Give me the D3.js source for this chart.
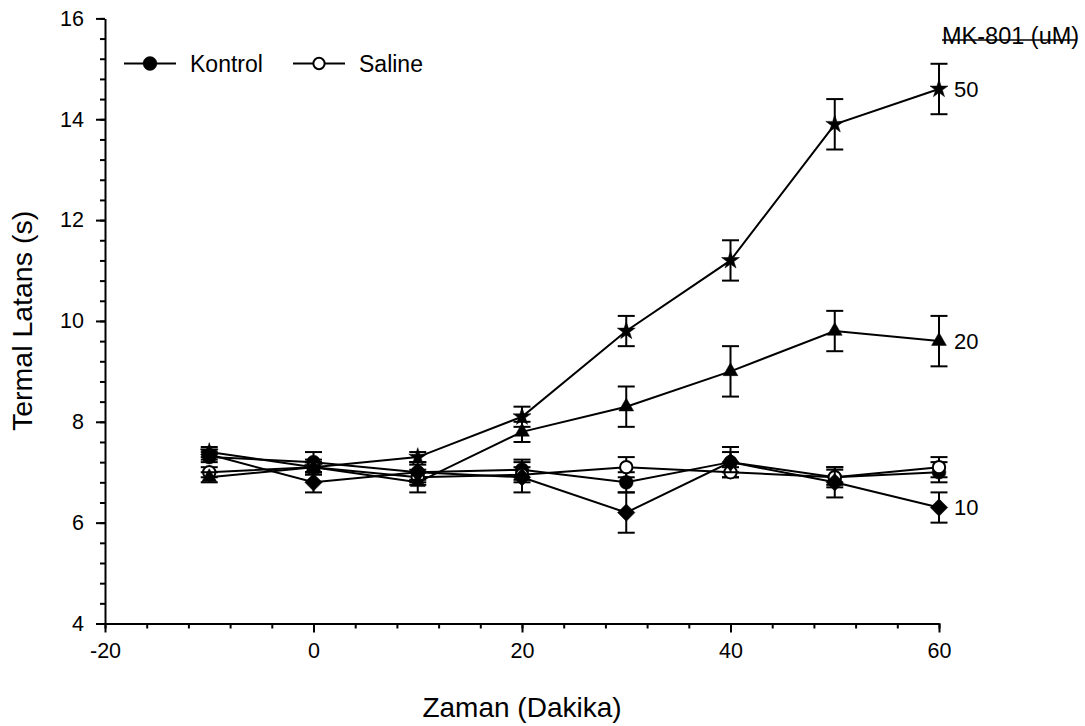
<!DOCTYPE html>
<html lang="tr">
<head>
<meta charset="UTF-8">
<title>Termal Latans</title>
<script src="https://cdn.jsdelivr.net/npm/d3@7"></script>
<style>
  body { margin: 0; background: #fff; }
  text { font-family: "Liberation Sans", Arial, sans-serif; fill: #000; }
</style>
</head>
<body>
<div id="grafico"></div>
<script>
// time points (minutes)
var zaman = [-10, 0, 10, 20, 30, 40, 50, 60];

// mean latency and SEM for each group
var kontrol    = [7.3, 7.2, 7.0, 7.05, 6.8, 7.2, 6.9, 7.0];
var kontrolErr = [0.1, 0.2, 0.2, 0.2, 0.2, 0.3, 0.2, 0.2];
var saline     = [7.0, 7.1, 6.9, 6.95, 7.1, 7.0, 6.9, 7.1];
var salineErr  = [0.1, 0.15, 0.15, 0.15, 0.2, 0.1, 0.15, 0.2];
var mk10       = [7.35, 6.8, 7.0, 6.9, 6.2, 7.2, 6.8, 6.3];
var mk10Err    = [0.1, 0.2, 0.15, 0.3, 0.4, 0.2, 0.3, 0.3];
var mk20       = [6.9, 7.1, 6.8, 7.8, 8.3, 9.0, 9.8, 9.6];
var mk20Err    = [0.1, 0.1, 0.2, 0.2, 0.4, 0.5, 0.4, 0.5];
var mk50       = [7.4, 7.1, 7.3, 8.1, 9.8, 11.2, 13.9, 14.6];
var mk50Err    = [0.1, 0.1, 0.1, 0.2, 0.3, 0.4, 0.5, 0.5];

var xTicks = [-20, 0, 20, 40, 60];
var yTicks = [4, 6, 8, 10, 12, 14, 16];

var w = 1085, h = 726;

var svg = d3.select("#grafico").append("svg")
    .attr("width", w).attr("height", h);

var x = d3.scaleLinear().domain([-20, 60]).range([105, 939]);
var y = d3.scaleLinear().domain([4, 16]).range([623.5, 18.4]);

// minor ticks
svg.append("g")
    .attr("transform", "translate(0,623.5)")
    .call(d3.axisBottom(x).tickValues(d3.range(-20, 61, 4)).tickSize(5).tickSizeOuter(0).tickFormat(""))
    .call(function(g){ g.select(".domain").remove(); });
svg.append("g")
    .attr("transform", "translate(105,0)")
    .call(d3.axisLeft(y).tickValues(d3.range(4, 16.01, 0.4)).tickSize(5).tickSizeOuter(0).tickFormat(""))
    .call(function(g){ g.select(".domain").remove(); });

// major axes
var plain = function(d){ return String(d); };
svg.append("g")
    .attr("transform", "translate(0,623.5)")
    .call(d3.axisBottom(x).tickValues(xTicks).tickFormat(plain).tickSize(9).tickSizeOuter(0).tickPadding(10));
svg.append("g")
    .attr("transform", "translate(105,0)")
    .call(d3.axisLeft(y).tickValues(yTicks).tickFormat(plain).tickSize(9).tickSizeOuter(0).tickPadding(12));

svg.selectAll(".tick line, .domain").attr("stroke", "#000").attr("stroke-width", 2);
svg.selectAll(".tick text").attr("font-size", "21.5px").attr("font-family", "Liberation Sans, Arial, sans-serif").attr("fill", "#000");

// axis titles
svg.append("text")
    .attr("x", x(20)).attr("y", 717)
    .attr("text-anchor", "middle")
    .attr("font-size", "28px")
    .text("Zaman (Dakika)");
svg.append("text")
    .attr("transform", "translate(32," + y(10) + ") rotate(-90)")
    .attr("text-anchor", "middle")
    .attr("font-size", "28.5px")
    .text("Termal Latans (s)");

var series = [
    {ad: "kontrol", v: kontrol, e: kontrolErr, sym: d3.symbolCircle, size: 150, fill: "#000", rot: 0},
    {ad: "saline", v: saline, e: salineErr, sym: d3.symbolCircle, size: 120, fill: "#fff", rot: 0},
    {ad: "10", v: mk10, e: mk10Err, sym: d3.symbolSquare, size: 150, fill: "#000", rot: 45},
    {ad: "20", v: mk20, e: mk20Err, sym: d3.symbolTriangle, size: 95, fill: "#000", rot: 0},
    {ad: "50", v: mk50, e: mk50Err, sym: d3.symbolStar, size: 100, fill: "#000", rot: 0}
];

var line = d3.line()
    .x(function(d){ return x(d[0]); })
    .y(function(d){ return y(d[1]); });

series.forEach(function(s){
    var pts = zaman.map(function(t, i){ return [t, s.v[i], s.e[i]]; });
    var g = svg.append("g");

    // error bars
    pts.forEach(function(p){
        var cx = x(p[0]), top = y(p[1] + p[2]), bot = y(p[1] - p[2]);
        g.append("line").attr("x1", cx).attr("x2", cx).attr("y1", top).attr("y2", bot)
            .attr("stroke", "#000").attr("stroke-width", 2);
        [top, bot].forEach(function(yy){
            g.append("line").attr("x1", cx - 8.5).attr("x2", cx + 8.5).attr("y1", yy).attr("y2", yy)
                .attr("stroke", "#000").attr("stroke-width", 2);
        });
    });

    g.append("path")
        .datum(pts)
        .attr("d", line)
        .attr("fill", "none")
        .attr("stroke", "#000")
        .attr("stroke-width", 2);

    g.selectAll("path.m")
        .data(pts)
        .enter()
        .append("path")
        .attr("class", "m")
        .attr("d", d3.symbol().type(s.sym).size(s.size))
        .attr("transform", function(d){
            return "translate(" + x(d[0]) + "," + y(d[1]) + ") rotate(" + s.rot + ")";
        })
        .attr("fill", s.fill)
        .attr("stroke", "#000")
        .attr("stroke-width", s.fill === "#fff" ? 2 : 0.5);
});

// labels for MK-801 doses
series.slice(2).forEach(function(s){
    svg.append("text")
        .attr("x", 954)
        .attr("y", y(s.v[s.v.length - 1]))
        .attr("dy", "0.36em")
        .attr("font-size", "22px")
        .text(s.ad);
});
svg.append("text")
    .attr("x", 942).attr("y", 44)
    .attr("font-size", "23.5px")
    .text("MK-801 (uM)");
svg.append("line")
    .attr("x1", 942).attr("x2", 1077).attr("y1", 40).attr("y2", 40)
    .attr("stroke", "#000").attr("stroke-width", 1.5);

// legend
var legend = [
    {ad: "Kontrol", x0: 124, fill: "#000", size: 150},
    {ad: "Saline", x0: 293, fill: "#fff", size: 100}
];
legend.forEach(function(l){
    svg.append("line")
        .attr("x1", l.x0).attr("x2", l.x0 + 52).attr("y1", 63.5).attr("y2", 63.5)
        .attr("stroke", "#000").attr("stroke-width", 2);
    svg.append("path")
        .attr("d", d3.symbol().type(d3.symbolCircle).size(l.size))
        .attr("transform", "translate(" + (l.x0 + 26) + ",63.5)")
        .attr("fill", l.fill).attr("stroke", "#000")
        .attr("stroke-width", l.fill === "#fff" ? 2 : 0.5);
    svg.append("text")
        .attr("x", l.x0 + 66).attr("y", 72)
        .attr("font-size", "23px")
        .text(l.ad);
});
</script>
</body>
</html>
